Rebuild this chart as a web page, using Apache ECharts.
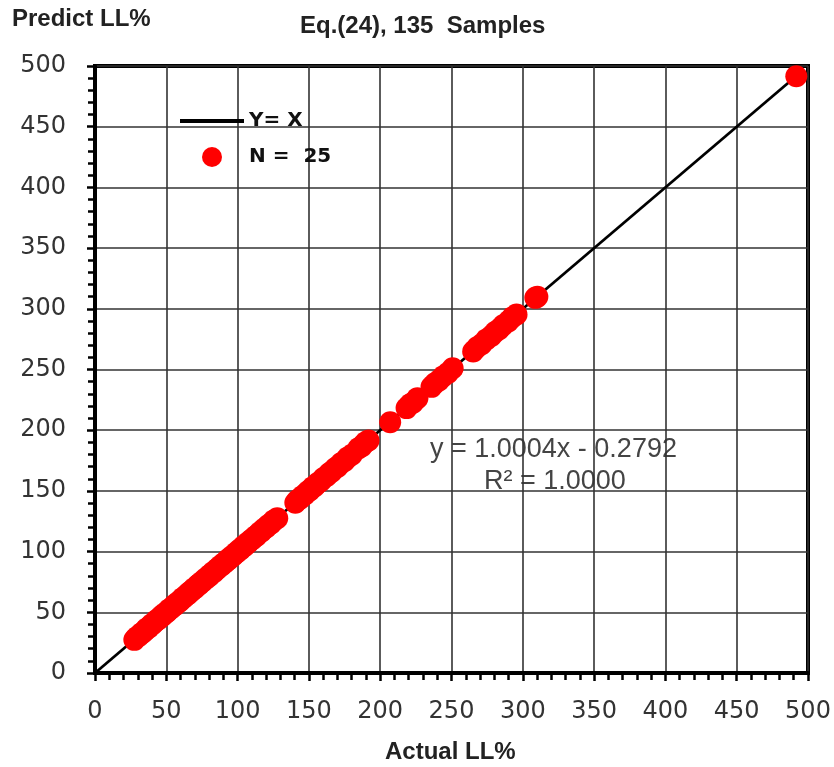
<!DOCTYPE html>
<html>
<head>
<meta charset="utf-8">
<script src="https://cdn.jsdelivr.net/npm/echarts@6/dist/echarts.min.js"></script>
<style>
  html, body { margin: 0; padding: 0; background: #fff; }
  #chart { width: 834px; height: 767px; }
</style>
</head>
<body>
<div id="chart"></div>
<script>
// measured (actual) liquid limit
const actualLL = [
  27.6, 29.0, 30.8, 32.1, 33.5, 35.2, 36.0, 37.9, 39.4, 40.6,
  42.3, 43.1, 44.8, 46.0, 47.5, 48.2, 49.9, 51.3, 52.0, 53.8,
  55.1, 56.4, 57.2, 58.9, 60.3, 61.0, 62.7, 64.1, 65.5, 66.2,
  67.8, 69.0, 70.4, 71.9, 73.2, 74.0, 75.6, 77.1, 78.3, 79.8,
  80.5, 82.2, 83.6, 84.9, 86.0, 87.4, 88.8, 90.1, 91.5, 92.7,
  94.0, 95.3, 96.9, 98.2, 99.5, 100.8, 102.1, 103.6, 105.0, 106.4,
  107.7, 109.1, 110.6, 112.0, 113.4, 115.2, 116.8, 118.3, 120.1, 121.7,
  123.5, 125.4, 127.8,
  140.5, 142.0, 143.8, 145.1, 147.3, 149.0, 150.6, 152.4, 154.1, 156.0,
  158.2, 160.1, 162.5, 164.3, 166.0, 168.4, 170.2, 172.5, 175.0, 177.3,
  180.1, 184.6, 187.2, 189.5, 191.8,
  207.0,
  218.5, 220.8, 223.0, 226.1,
  236.0, 238.4, 241.2, 244.0, 247.5, 250.8,
  265.2, 268.0, 271.1, 274.5, 277.9, 280.6, 283.4, 286.2, 289.8, 292.5, 295.6,
  308.8, 310.2,
  491.8
]
// predicted liquid limit, Eq.(24)
const predictLL = [
  27.3, 29.2, 30.5, 32.4, 33.2, 35.0, 36.5, 37.6, 39.7, 40.3,
  42.5, 43.4, 44.5, 46.3, 47.2, 48.6, 49.6, 51.0, 52.4, 53.5,
  55.4, 56.1, 57.5, 58.6, 60.0, 61.4, 62.4, 64.3, 65.2, 66.5,
  67.5, 69.3, 70.1, 72.2, 72.9, 74.3, 75.3, 77.4, 78.0, 80.1,
  80.2, 82.5, 83.3, 85.1, 85.8, 87.7, 88.5, 90.3, 91.2, 93.0,
  93.7, 95.6, 96.6, 98.5, 99.2, 101.1, 101.8, 103.9, 104.7, 106.6,
  107.5, 109.4, 110.3, 112.3, 113.1, 115.5, 116.5, 118.6, 119.8, 122.0,
  123.2, 125.7, 127.5,
  140.2, 142.3, 143.5, 145.4, 147.0, 149.3, 150.3, 152.7, 153.8, 156.3,
  157.9, 160.4, 162.2, 164.6, 165.7, 168.7, 169.9, 172.8, 174.7, 177.6,
  179.8, 184.9, 186.9, 189.8, 191.5,
  206.6,
  218.2, 221.1, 222.7, 226.4,
  235.7, 238.7, 240.9, 244.3, 247.2, 251.1,
  264.9, 268.3, 270.8, 274.8, 277.6, 280.9, 283.1, 286.5, 289.5, 292.8, 295.3,
  309.0, 309.9,
  491.5
]
// Y = X reference line end points
const lineX = [0, 492]
const lineY = [0, 492]

const axisTicks = [0, 50, 100, 150, 200, 250, 300, 350, 400, 450, 500]

const chart = echarts.init(document.getElementById('chart'))

const axisCommon = {
  type: 'value',
  min: axisTicks[0],
  max: axisTicks[axisTicks.length - 1],
  interval: axisTicks[1] - axisTicks[0],
  axisLine: { show: true, onZero: false, lineStyle: { color: '#000', width: 4 } },
  axisTick: { show: true, inside: false, length: 8, lineStyle: { color: '#000', width: 2.5 } },
  minorTick: { show: true, splitNumber: 5, length: 7, lineStyle: { color: '#000', width: 2.5 } },
  splitLine: { show: true, lineStyle: { color: '#333', width: 1.6 } },
  axisLabel: {
    color: '#333',
    fontFamily: 'DejaVu Sans',
    fontSize: 24
  }
}

const boldText = { fontFamily: 'Liberation Sans', fontWeight: 'bold', fontSize: 24, color: '#222' }

chart.setOption({
  animation: false,
  backgroundColor: '#fff',
  title: [
    { text: 'Eq.(24), 135  Samples', left: 300, top: 14, padding: 0, textStyle: boldText },
    { text: 'Predict LL%', left: 12, top: 7, padding: 0, textStyle: boldText },
    { text: 'Actual LL%', left: 385, top: 740, padding: 0, textStyle: boldText }
  ],
  grid: {
    left: 95,
    right: 26,
    top: 66,
    bottom: 94,
    show: true,
    borderColor: '#000',
    borderWidth: 4,
    containLabel: false
  },
  legend: {
    orient: 'vertical',
    left: 180,
    top: 111,
    padding: 0,
    itemWidth: 64,
    itemHeight: 20,
    itemGap: 16,
    textStyle: { fontFamily: 'DejaVu Sans', fontWeight: 'bold', fontSize: 20, color: '#111' },
    data: [
      { name: 'Y= X', icon: 'path://M0,0 L64,0 L64,4 L0,4 Z' },
      { name: 'N =  25', icon: 'circle' }
    ]
  },
  xAxis: Object.assign({}, axisCommon, {
    axisLabel: Object.assign({}, axisCommon.axisLabel, { margin: 27 })
  }),
  yAxis: Object.assign({}, axisCommon, {
    axisLabel: Object.assign({}, axisCommon.axisLabel, { margin: 29 })
  }),
  graphic: [
    {
      type: 'text',
      left: 430,
      top: 436,
      style: { text: 'y = 1.0004x - 0.2792', fontFamily: 'Liberation Sans', fontSize: 27, fill: '#444' }
    },
    {
      type: 'text',
      left: 484,
      top: 468,
      style: { text: 'R² = 1.0000', fontFamily: 'Liberation Sans', fontSize: 27, fill: '#444' }
    }
  ],
  series: [
    {
      name: 'Y= X',
      type: 'line',
      symbol: 'none',
      z: 2,
      lineStyle: { color: '#000', width: 2.8 },
      itemStyle: { color: '#000' },
      data: lineX.map((x, i) => [x, lineY[i]])
    },
    {
      name: 'N =  25',
      type: 'scatter',
      symbol: 'circle',
      symbolSize: 22,
      z: 3,
      itemStyle: { color: '#ff0000', opacity: 1 },
      data: actualLL.map((x, i) => [x, predictLL[i]])
    }
  ]
})
</script>
</body>
</html>
